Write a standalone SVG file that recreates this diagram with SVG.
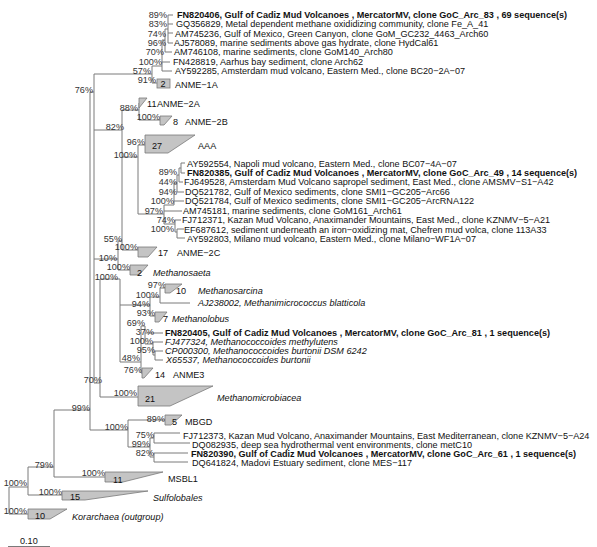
<svg xmlns="http://www.w3.org/2000/svg" width="597" height="547" viewBox="0 0 597 547">
<style>
text{font-family:"Liberation Sans",Arial,sans-serif;font-size:9.1px;fill:#111}
.b{font-weight:bold}
.i{font-style:italic}
.bs{text-anchor:end;fill:#333}
.ln{fill:none;stroke:#7a7a7a;stroke-width:1}
.cl{fill:#c4c4c4;stroke:#7a7a7a;stroke-width:0.8}
</style>
<rect width="597" height="547" fill="#fff"/>
<g id="connectors" class="ln">
<path d="M9,487V514M9,487H28M9,514H28M28,467V495M28,495H62M28,467H54M54,410V477M54,477H105M54,410H90M90,92V430M90,430H128M128,420V447M128,420H165M128,447H150M150,438V457M150,438H154M154,433V443M154,433H180M154,443H190M150,457H154M154,453V462M154,453H188M154,462H188"/>
<path d="M90,92H94M94,74V383M94,74H152M152,66V83M152,83H157M152,66H162M162,40V71M162,62H170M162,71H172M162,40H165M165,29V52M165,52H172M165,29H168M168,15V43M168,15H173M168,24H173M168,33H173M168,43H173"/>
<path d="M94,130H122M122,110V250M122,110H139M139,103V120M139,120H160M122,157H138M138,145V214M138,145H145M138,214H164M164,205V224M164,205H174M164,211H182M164,224H175M174,183V205M174,201H184M174,183H177M177,175V192M177,192H184M177,175H179M179,168V182M179,182H183M179,168H181M181,163V173M181,163H185M181,173H185M175,220V232M175,220H181M175,232H177M177,229V238M177,229H184M177,238H185M122,250H138M94,259H118M118,241V270M118,241H122M118,270H130"/>
<path d="M94,383H100M100,279V397M100,397H138M100,279H120M120,279V362M120,305H150M150,297V316M150,297H160M150,316H155M160,288V303M160,288H165M160,303H190M120,362H141M141,326V373M141,373H142M141,326H145M145,326V344M145,333H163M145,344H153M153,342V355M153,342H163M153,355H155M155,351V360M155,351H163M155,360H163"/>
<path d="M8,546.5H50"/>
</g>
<g id="bootstrap">
<text class="bs" x="167" y="18.3">89%</text>
<text class="bs" x="167" y="27.3">83%</text>
<text class="bs" x="166" y="36.6">74%</text>
<text class="bs" x="166" y="46">96%</text>
<text class="bs" x="164" y="55.3">70%</text>
<text class="bs" x="162" y="65">100%</text>
<text class="bs" x="151" y="74.3">57%</text>
<text class="bs" x="156" y="83.3">91%</text>
<text class="bs" x="93" y="93.3">76%</text>
<text class="bs" x="138" y="111.3">88%</text>
<text class="bs" x="160" y="120.3">100%</text>
<text class="bs" x="124" y="130.3">82%</text>
<text class="bs" x="145" y="145.3">96%</text>
<text class="bs" x="137" y="158.3">100%</text>
<text class="bs" x="177" y="175.3">89%</text>
<text class="bs" x="177" y="185.3">44%</text>
<text class="bs" x="177" y="195">94%</text>
<text class="bs" x="174" y="204.3">100%</text>
<text class="bs" x="163" y="214.3">97%</text>
<text class="bs" x="175" y="223.3">74%</text>
<text class="bs" x="174" y="232.3">100%</text>
<text class="bs" x="122" y="242.3">55%</text>
<text class="bs" x="138" y="250.3">100%</text>
<text class="bs" x="117" y="261.3">10%</text>
<text class="bs" x="130" y="270.3">100%</text>
<text class="bs" x="118" y="280.3">100%</text>
<text class="bs" x="166" y="288.3">97%</text>
<text class="bs" x="159" y="297.6">100%</text>
<text class="bs" x="150" y="306.8">94%</text>
<text class="bs" x="155" y="316.3">93%</text>
<text class="bs" x="145" y="326.3">69%</text>
<text class="bs" x="154" y="335.3">37%</text>
<text class="bs" x="153" y="344.3">100%</text>
<text class="bs" x="155" y="353.3">95%</text>
<text class="bs" x="140" y="361.3">48%</text>
<text class="bs" x="142" y="373.3">76%</text>
<text class="bs" x="102" y="383.3">70%</text>
<text class="bs" x="137" y="396.3">100%</text>
<text class="bs" x="90" y="411.3">99%</text>
<text class="bs" x="165" y="422.3">89%</text>
<text class="bs" x="128" y="430.3">100%</text>
<text class="bs" x="154" y="438.3">75%</text>
<text class="bs" x="150" y="447.3">99%</text>
<text class="bs" x="154" y="456.3">82%</text>
<text class="bs" x="53" y="468.3">79%</text>
<text class="bs" x="105" y="476.3">100%</text>
<text class="bs" x="27" y="486.3">100%</text>
<text class="bs" x="62" y="495.3">100%</text>
<text class="bs" x="27" y="514">100%</text>
</g>
<g id="anme1-leaves" xml:space="preserve">
<text class="b" x="177" y="18.3">FN820406, Gulf of Cadiz Mud Volcanoes , MercatorMV, clone GoC_Arc_83 , 69 sequence(s)</text>
<text x="176" y="27.3">GQ356829, Metal dependent methane oxididizing community, clone Fe_A_41</text>
<text x="175" y="36.6">AM745236, Gulf of Mexico, Green Canyon, clone  GoM_GC232_4463_Arch60</text>
<text x="174" y="46">AJ578089, marine sediments above gas hydrate, clone  HydCal61</text>
<text x="174" y="55.3">AM746108, marine sediments, clone  GoM140_Arch80</text>
<text x="173" y="65">FN428819, Aarhus bay sediment, clone Arch62</text>
<text x="175" y="74">AY592285, Amsterdam mud volcano, Eastern Med., clone BC20−2A−07</text>
</g>
<g id="anme1a"><rect class="cl" x="157" y="79" width="13" height="9"/><text x="160.5" y="87.3">2</text><text x="175" y="87.5">ANME−1A</text></g>
<g id="anme2a"><polygon class="cl" points="139,98 147,98 139,108"/><text x="147" y="106.5">11</text><text x="157" y="106.5">ANME−2A</text></g>
<g id="anme2b"><polygon class="cl" points="160,116 172,116 164,125 160,125"/><text x="173" y="125.3">8</text><text x="185" y="125.3">ANME−2B</text></g>
<g id="aaa"><polygon class="cl" points="145,135 195,135 168,153 145,153"/><text x="152" y="148.5">27</text><text x="198" y="148.5">AAA</text></g>
<g id="anme2-leaves" xml:space="preserve">
<text x="187" y="166.6">AY592554, Napoli mud volcano, Eastern Med., clone BC07−4A−07</text>
<text class="b" x="187" y="176">FN820385, Gulf of Cadiz Mud Volcanoes , MercatorMV, clone GoC_Arc_49 , 14 sequence(s)</text>
<text x="184" y="185.3">FJ649528, Amsterdam Mud Volcano sapropel sediment, East Med., clone  AMSMV−S1−A42</text>
<text x="185" y="195">DQ521782, Gulf of Mexico sediments, clone  SMI1−GC205−Arc66</text>
<text x="185" y="204.3">DQ521784, Gulf of Mexico sediments, clone  SMI1−GC205−ArcRNA122</text>
<text x="183" y="214">AM745181, marine sediments, clone  GoM161_Arch61</text>
<text x="182" y="223.3">FJ712371, Kazan Mud Volcano, Anaximander Mountains, East Med., clone  KZNMV−5−A21</text>
<text x="184" y="232.6">EF687612, sediment underneath an iron−oxidizing mat, Chefren mud volca, clone  113A33</text>
<text x="187" y="241.6">AY592803, Milano mud volcano, Eastern Med., clone  Milano−WF1A−07</text>
</g>
<g id="anme2c"><polygon class="cl" points="138,247 157,247 148,257 138,257"/><text x="158" y="256">17</text><text x="177" y="256">ANME−2C</text></g>
<g id="methanosaeta"><polygon class="cl" points="130,265 148,265 139,275 130,275"/><text x="137" y="275.5">2</text><text class="i" x="153" y="275.5">Methanosaeta</text></g>
<g id="methanosarcina"><polygon class="cl" points="165,284 182,284 170,293 165,293"/><text x="176" y="294.3">10</text><text class="i" x="198" y="294.3">Methanosarcina</text></g>
<g id="aj238002"><text class="i" x="198" y="306.3">AJ238002, Methanimicrococcus blatticola</text></g>
<g id="methanolobus"><polygon class="cl" points="155,312 167,312 159,322 155,322"/><text x="163" y="321.5">7</text><text class="i" x="172" y="321.5">Methanolobus</text></g>
<g id="methanococcoides-leaves" xml:space="preserve">
<text class="b" x="165" y="336">FN820405, Gulf of Cadiz Mud Volcanoes , MercatorMV, clone GoC_Arc_81 , 1 sequence(s)</text>
<text class="i" x="165" y="345">FJ477324, Methanococcoides methylutens</text>
<text class="i" x="165" y="354">CP000300, Methanococcoides burtonii DSM 6242</text>
<text class="i" x="166" y="363.3">X65537,  Methanococcoides burtonii</text>
</g>
<g id="anme3"><polygon class="cl" points="142,368 153,368 144,378 142,378"/><text x="155" y="377.5">14</text><text x="173" y="377.5">ANME3</text></g>
<g id="methanomicrobiacea"><polygon class="cl" points="138,386 213,386 170,406 138,406"/><text x="145" y="401.5">21</text><text class="i" x="217" y="400.5">Methanomicrobiacea</text></g>
<g id="mbgd"><polygon class="cl" points="165,415 182,415 171,425 165,425"/><text x="172" y="425">5</text><text x="185" y="425">MBGD</text></g>
<g id="mbgd-leaves" xml:space="preserve">
<text x="183" y="438.5">FJ712373, Kazan Mud Volcano, Anaximander Mountains, East Mediterranean, clone  KZNMV−5−A24</text>
<text x="192" y="447.5">DQ082935, deep sea hydrothermal vent environments, clone  metC10</text>
<text class="b" x="191" y="456.5">FN820390, Gulf of Cadiz Mud Volcanoes , MercatorMV, clone GoC_Arc_61 , 1 sequence(s)</text>
<text x="192" y="465.5">DQ641824, Madovi Estuary sediment, clone  MES−117</text>
</g>
<g id="msbl1"><polygon class="cl" points="105,472 163,472 123,482 105,482"/><text x="113" y="483">11</text><text x="168" y="481.5">MSBL1</text></g>
<g id="sulfolobales"><polygon class="cl" points="62,491 148,491 85,500 62,500"/><text x="70" y="500">15</text><text class="i" x="153" y="500.5">Sulfolobales</text></g>
<g id="korarchaea"><polygon class="cl" points="28,509 67,509 50,519 28,519"/><text x="35" y="519">10</text><text class="i" x="72" y="519.5">Korarchaea (outgroup)</text></g>
<g id="scale"><text x="20" y="544">0.10</text></g>
</svg>
